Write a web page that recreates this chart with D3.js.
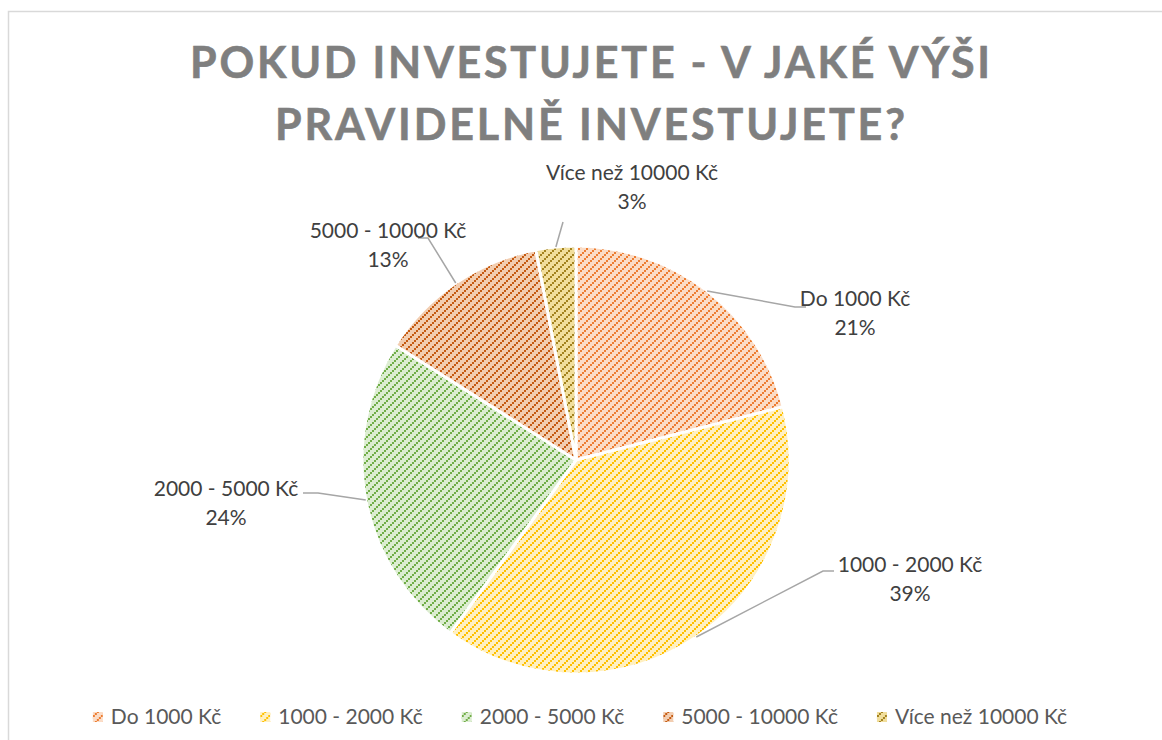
<!DOCTYPE html>
<html>
<head>
<meta charset="utf-8">
<script src="https://cdn.jsdelivr.net/npm/d3@7"></script>
<style>
  body { margin: 0; background: #fff; }
  text { font-family: Lato, "Open Sans", sans-serif; }
</style>
</head>
<body>
<script>
// data
var categories = ["Do 1000 Kč", "1000 - 2000 Kč", "2000 - 5000 Kč", "5000 - 10000 Kč", "Více než 10000 Kč"];
var values = [21, 39, 24, 13, 3];
var titleLines = ["POKUD INVESTUJETE - V JAKÉ VÝŠI", "PRAVIDELNĚ INVESTUJETE?"];

// style
var fgColors = ["#ED7D31", "#FFC000", "#70AD47", "#C55A11", "#A3821E"];
var bgColors = ["#FBDCC6", "#FFF0C2", "#DCEDD1", "#F2CDB0", "#F1DE9C"];

const w = 1162, h = 740;
const cx = 576, cy = 460, r = 214;

// label placement (layout only)
var labelPos = [[855, 306], [910, 572], [226, 496], [388, 238], [632, 180]];
var leaderEnd = [[[806, 307], [795, 307]], [[834, 571], [823, 571]], [[303, 493], [318, 493]], [[418, 238], [428, 238]], [[563, 222]]];

const svg = d3.select("body").append("svg")
    .attr("width", w)
    .attr("height", h);

// chart border
svg.append("rect")
    .attr("x", 8.5).attr("y", 11.5)
    .attr("width", w + 20).attr("height", h + 20)
    .attr("fill", "#fff")
    .attr("stroke", "#d9d9d9")
    .attr("stroke-width", 1.5);

// patterns
var defs = svg.append("defs");
categories.forEach(function (c, i) {
    var p = defs.append("pattern")
        .attr("id", "pat" + i)
        .attr("patternUnits", "userSpaceOnUse")
        .attr("width", 8).attr("height", 8);
    p.append("rect").attr("width", 8).attr("height", 8).attr("fill", bgColors[i]);
    [[6, 0], [4, 2], [2, 4], [0, 6]].forEach(function (q) {
        p.append("rect").attr("x", q[0]).attr("y", q[1])
            .attr("width", 2).attr("height", 2)
            .attr("fill", fgColors[i]);
    });
});

// title
svg.append("g").selectAll("text")
    .data(titleLines)
    .enter()
    .append("text")
    .attr("x", 590)
    .attr("y", (d, i) => 78 + i * 62)
    .attr("text-anchor", "middle")
    .attr("font-size", 43)
    .attr("font-weight", "bold")
    .attr("fill", "#7f7f7f")
    .attr("stroke", "#7f7f7f")
    .attr("stroke-width", 0.6)
    .attr("textLength", (d, i) => i == 0 ? 800 : 630)
    .attr("lengthAdjust", "spacing")
    .text(d => d);

// pie
var pie = d3.pie().sort(null).value(d => d);
var arcs = pie(values);
var arc = d3.arc().innerRadius(0).outerRadius(r);

var g = svg.append("g").attr("transform", "translate(" + cx + "," + cy + ")");
g.selectAll("path")
    .data(arcs)
    .enter()
    .append("path")
    .attr("d", arc)
    .attr("fill", (d, i) => "url(#pat" + i + ")")
    .attr("stroke", "#fff")
    .attr("stroke-width", 3)
    .attr("stroke-linejoin", "round");

// leader lines
arcs.forEach(function (a, i) {
    var mid = (a.startAngle + a.endAngle) / 2;
    var start = [cx + r * Math.sin(mid), cy - r * Math.cos(mid)];
    var pts = leaderEnd[i].concat([start]);
    svg.append("path")
        .attr("d", d3.line()(pts))
        .attr("fill", "none")
        .attr("stroke", "#a6a6a6")
        .attr("stroke-width", 1.5);
});

// data labels
var labels = svg.append("g").selectAll("text")
    .data(arcs)
    .enter()
    .append("text")
    .attr("text-anchor", "middle")
    .attr("font-size", 21)
    .attr("fill", "#404040")
    .attr("transform", (d, i) => "translate(" + labelPos[i][0] + "," + labelPos[i][1] + ")");
labels.append("tspan").attr("x", 0).attr("y", 0).text((d, i) => categories[i]);
labels.append("tspan").attr("x", 0).attr("y", 29).text(d => d.data + "%");

// legend
var legend = svg.append("g");
var items = legend.selectAll("g")
    .data(categories)
    .enter()
    .append("g");
items.append("rect")
    .attr("width", 10).attr("height", 10)
    .attr("y", -5)
    .attr("fill", (d, i) => "url(#pat" + i + ")");
items.append("text")
    .attr("x", 18)
    .attr("y", 0)
    .attr("dy", "0.32em")
    .attr("font-size", 21)
    .attr("fill", "#595959")
    .text(d => d);
var gap = 39, xpos = 0, offsets = [];
items.each(function (d, i) {
    offsets.push(xpos);
    xpos += 18 + d3.select(this).select("text").node().getComputedTextLength() + gap;
});
var total = xpos - gap;
var startX = 580 - total / 2;
items.attr("transform", (d, i) => "translate(" + (startX + offsets[i]) + ",717)");
</script>
</body>
</html>
